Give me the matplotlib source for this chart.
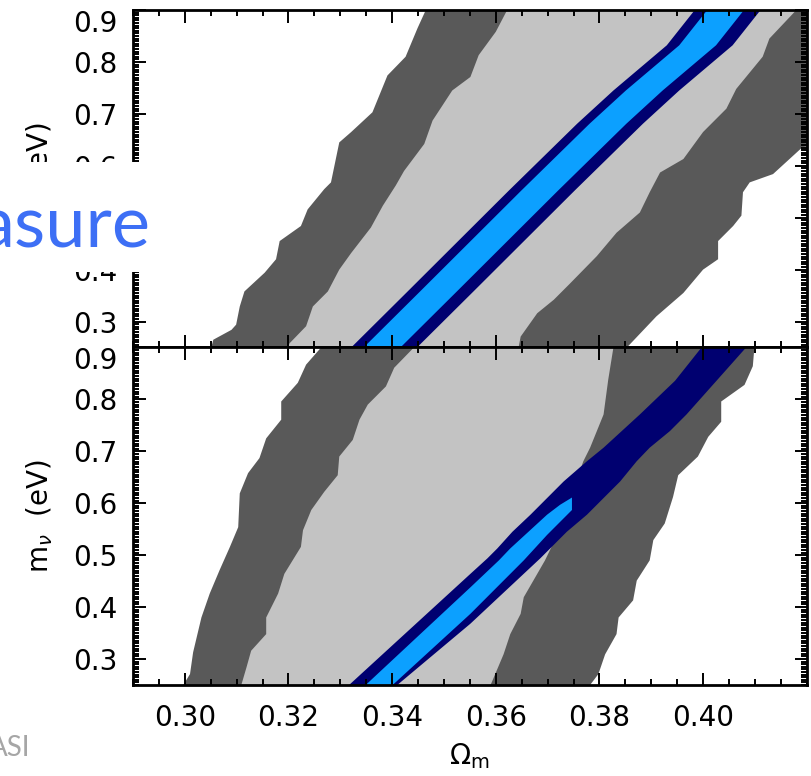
import numpy as np
import matplotlib.pyplot as plt
from matplotlib.patches import Rectangle
from matplotlib.ticker import MultipleLocator

# contour edges (Omega_m, m_nu) traced top -> bottom, upper panel
top_dark_left = [(0.3465, 0.90), (0.3449, 0.865), (0.3426, 0.810), (0.3391, 0.774), (0.3362, 0.703),
                 (0.3321, 0.665), (0.3298, 0.645), (0.3282, 0.568), (0.3269, 0.555), (0.3237, 0.516),
                 (0.3224, 0.484), (0.3183, 0.455), (0.3176, 0.420), (0.3154, 0.394), (0.3115, 0.358),
                 (0.3106, 0.329), (0.3099, 0.294), (0.3090, 0.284), (0.3055, 0.265), (0.3051, 0.25)]
top_dark_right = [(0.43, 0.90), (0.43, 0.645), (0.4192, 0.636), (0.4135, 0.584), (0.4090, 0.568),
                  (0.4077, 0.549), (0.4074, 0.504), (0.4058, 0.484), (0.4029, 0.455), (0.4029, 0.420),
                  (0.4000, 0.400), (0.3962, 0.355), (0.3910, 0.310), (0.3853, 0.25)]
top_light_left = [(0.3622, 0.90), (0.3600, 0.858), (0.3567, 0.813), (0.3551, 0.771), (0.3516, 0.745),
                  (0.3478, 0.687), (0.3462, 0.642), (0.3423, 0.590), (0.3407, 0.562), (0.3382, 0.523),
                  (0.3359, 0.481), (0.3321, 0.432), (0.3298, 0.400), (0.3276, 0.358), (0.3247, 0.329),
                  (0.3234, 0.291), (0.3202, 0.258), (0.3199, 0.25)]
top_light_right = [(0.4180, 0.90), (0.4128, 0.845), (0.4115, 0.810), (0.4064, 0.748), (0.4045, 0.710),
                   (0.4000, 0.665), (0.3962, 0.613), (0.3917, 0.587), (0.3897, 0.549), (0.3878, 0.510),
                   (0.3833, 0.471), (0.3795, 0.426), (0.3744, 0.374), (0.3712, 0.342), (0.3680, 0.316),
                   (0.3648, 0.271), (0.3644, 0.25)]
top_navy_left = [(0.3984, 0.90), (0.3930, 0.832), (0.3827, 0.745), (0.3757, 0.681), (0.3625, 0.552),
                 (0.3430, 0.358), (0.3321, 0.25)]
top_blue_left = [(0.4008, 0.90), (0.3954, 0.832), (0.3851, 0.745), (0.3781, 0.681), (0.3649, 0.552),
                 (0.3454, 0.358), (0.3345, 0.25)]
top_blue_right = [(0.4079, 0.90), (0.4025, 0.832), (0.3922, 0.745), (0.3852, 0.681), (0.3720, 0.552),
                  (0.3525, 0.358), (0.3416, 0.25)]
top_navy_right = [(0.4111, 0.90), (0.4057, 0.832), (0.3954, 0.745), (0.3884, 0.681), (0.3752, 0.552),
                  (0.3557, 0.358), (0.3448, 0.25)]

# lower panel
bot_dark_left = [(0.3263, 0.90), (0.3234, 0.867), (0.3218, 0.832), (0.3186, 0.796), (0.3186, 0.761),
                 (0.3157, 0.725), (0.3144, 0.687), (0.3122, 0.658), (0.3106, 0.619), (0.3103, 0.554),
                 (0.3087, 0.516), (0.3067, 0.471), (0.3048, 0.426), (0.3032, 0.380), (0.3016, 0.313),
                 (0.3010, 0.271), (0.2997, 0.25)]
bot_dark_right = [(0.4099, 0.90), (0.4096, 0.864), (0.4080, 0.828), (0.4035, 0.796), (0.4035, 0.757),
                  (0.4010, 0.728), (0.3990, 0.690), (0.3952, 0.654), (0.3942, 0.612), (0.3926, 0.561),
                  (0.3904, 0.529), (0.3897, 0.490), (0.3872, 0.451), (0.3865, 0.413), (0.3837, 0.380),
                  (0.3833, 0.348), (0.3811, 0.309), (0.3798, 0.271), (0.3782, 0.25)]
bot_light_left = [(0.3442, 0.90), (0.3404, 0.861), (0.3388, 0.825), (0.3353, 0.790), (0.3337, 0.761),
                  (0.3324, 0.722), (0.3298, 0.690), (0.3295, 0.654), (0.3269, 0.622), (0.3244, 0.587),
                  (0.3228, 0.548), (0.3224, 0.516), (0.3192, 0.464), (0.3180, 0.426), (0.3157, 0.380),
                  (0.3157, 0.348), (0.3128, 0.316), (0.3119, 0.284), (0.3109, 0.25)]
bot_light_right = [(0.3827, 0.90), (0.3817, 0.838), (0.3808, 0.771), (0.3782, 0.707), (0.3769, 0.681),
                   (0.3740, 0.600), (0.3709, 0.519), (0.3695, 0.490), (0.3680, 0.464), (0.3654, 0.419),
                   (0.3648, 0.387), (0.3628, 0.348), (0.3615, 0.309), (0.3590, 0.25)]
bot_navy_left = [(0.3997, 0.90), (0.3946, 0.836), (0.3878, 0.771), (0.3843, 0.739), (0.3808, 0.707),
                 (0.3776, 0.681), (0.3731, 0.642), (0.3699, 0.610), (0.3667, 0.578), (0.3632, 0.545),
                 (0.3603, 0.513), (0.3584, 0.494), (0.3551, 0.464), (0.3317, 0.25)]
bot_navy_right = [(0.4083, 0.90), (0.4026, 0.836), (0.3968, 0.771), (0.3936, 0.739), (0.3897, 0.707),
                  (0.3872, 0.681), (0.3840, 0.642), (0.3808, 0.610), (0.3776, 0.578), (0.3737, 0.545),
                  (0.3705, 0.513), (0.3686, 0.494), (0.3551, 0.368), (0.3410, 0.25)]
bot_blue_left = [(0.3747, 0.611), (0.3724, 0.597), (0.3699, 0.578), (0.3628, 0.513), (0.3606, 0.490),
                 (0.3551, 0.438), (0.3349, 0.25)]
bot_blue_right = [(0.3747, 0.587), (0.3699, 0.539), (0.3654, 0.490), (0.3551, 0.387), (0.3401, 0.25)]

xticks = [0.30, 0.32, 0.34, 0.36, 0.38, 0.40]
yticks = [0.3, 0.4, 0.5, 0.6, 0.7, 0.8, 0.9]

DARK = '#595959'
LIGHT = '#c3c3c3'
NAVY = '#000070'
BLUE = '#0ca0ff'


def fill_band(ax, left, right, color):
    pts = left + right[::-1]
    xs, ys = zip(*pts)
    ax.fill(xs, ys, color=color, lw=0, antialiased=True)


def style_axis(ax):
    ax.set_xlim(0.29, 0.42)
    ax.set_ylim(0.25, 0.90)
    ax.set_xticks(xticks)
    ax.set_yticks(yticks)
    ax.set_xticklabels(['%.2f' % v for v in xticks])
    ax.set_yticklabels(['%.1f' % v for v in yticks])
    ax.xaxis.set_minor_locator(MultipleLocator(0.005))
    ax.yaxis.set_minor_locator(MultipleLocator(0.005))
    ax.tick_params(which='both', direction='in', top=True, right=True, width=1.4, labelsize=20)
    ax.tick_params(which='major', length=9)
    ax.tick_params(which='minor', length=4.5)
    ax.tick_params(axis='y', pad=11)
    ax.tick_params(axis='x', pad=14)
    for sp in ax.spines.values():
        sp.set_linewidth(2.0)
    # keep the top label inside the frame
    ax.yaxis.get_major_ticks()[-1].label1.set_verticalalignment('top')


fig = plt.figure(figsize=(8.12, 7.76), dpi=100)
ax_top = fig.add_axes([0.1638, 0.5522, 0.8297, 0.4349])
ax_bot = fig.add_axes([0.1638, 0.1173, 0.8297, 0.4349])

fill_band(ax_top, top_dark_left, top_dark_right, DARK)
fill_band(ax_top, top_light_left, top_light_right, LIGHT)
fill_band(ax_top, top_navy_left, top_navy_right, NAVY)
fill_band(ax_top, top_blue_left, top_blue_right, BLUE)

fill_band(ax_bot, bot_dark_left, bot_dark_right, DARK)
fill_band(ax_bot, bot_light_left, bot_light_right, LIGHT)
fill_band(ax_bot, bot_navy_left, bot_navy_right, NAVY)
fill_band(ax_bot, bot_blue_left, bot_blue_right, BLUE)

style_axis(ax_top)
style_axis(ax_bot)
ax_top.tick_params(labelbottom=False)

ax_bot.set_xlabel(r'$\Omega_{\rm m}$', fontsize=20, labelpad=6)
for yc in (1 - 178.75 / 776, 1 - 516.25 / 776):
    fig.text(40 / 812, yc, r'm$_\nu$  (eV)', rotation=90, ha='center', va='center', fontsize=20)

# slide overlay: title fragment on a white strip, footer text
fig.patches.append(Rectangle((0, 1 - 272 / 776), 160 / 812, 110 / 776, transform=fig.transFigure,
                             facecolor='white', edgecolor='none', zorder=5))
fig.text(151 / 812, 1 - 248 / 776, 'asure', ha='right', va='baseline', fontsize=52,
         family=['Lato', 'DejaVu Sans'], color='#3d6ff5', zorder=6)
fig.text(30 / 812, 1 - 756 / 776, 'ASI', ha='right', va='baseline', fontsize=20,
         family=['Lato', 'DejaVu Sans'], color='#a6a6a6', zorder=6)

fig.savefig('out.png', dpi=100)
